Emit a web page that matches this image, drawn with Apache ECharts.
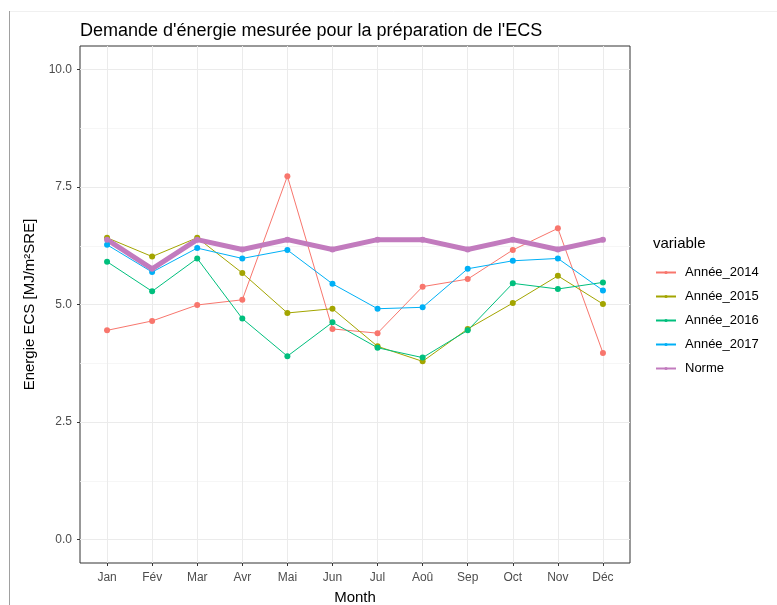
<!DOCTYPE html>
<html>
<head>
<meta charset="utf-8">
<script src="https://cdn.jsdelivr.net/npm/echarts@6/dist/echarts.min.js"></script>
<style>
  html, body { margin: 0; padding: 0; background: #fff; }
  #main { width: 777px; height: 605px; }
</style>
</head>
<body>
<div id="main"></div>
<script>
// Demande d'énergie ECS par mois

var months = ['Jan', 'Fév', 'Mar', 'Avr', 'Mai', 'Jun', 'Jul', 'Aoû', 'Sep', 'Oct', 'Nov', 'Déc'];
var annee2014 = [4.45, 4.65, 4.99, 5.10, 7.73, 4.48, 4.39, 5.38, 5.54, 6.16, 6.62, 3.97];
var annee2015 = [6.42, 6.02, 6.42, 5.67, 4.82, 4.91, 4.11, 3.79, 4.48, 5.03, 5.61, 5.01];
var annee2016 = [5.91, 5.28, 5.98, 4.70, 3.90, 4.62, 4.08, 3.87, 4.45, 5.45, 5.33, 5.47];
var annee2017 = [6.27, 5.69, 6.20, 5.98, 6.16, 5.44, 4.91, 4.94, 5.76, 5.93, 5.98, 5.30];
var norme     = [6.38, 5.76, 6.38, 6.17, 6.38, 6.17, 6.38, 6.38, 6.17, 6.38, 6.17, 6.38];
var yTicks = [0, 2.5, 5, 7.5, 10];
var yMinor = [1.25, 3.75, 6.25, 8.75];

var monthIdx = months.map(function (m, i) { return i; });
function pairs(arr) {
    return arr.map(function (v, i) { return [i, v]; });
}

var font = 'Liberation Sans, Arial, sans-serif';

var myChart = echarts.init(document.getElementById('main'), null, { renderer: 'canvas' });

function yearSeries(name, arr, color) {
    return {
        name: name,
        type: 'line',
        data: pairs(arr),
        symbol: 'circle',
        symbolSize: 6,
        showSymbol: true,
        itemStyle: { color: color },
        lineStyle: { width: 1, color: color },
        emphasis: { disabled: true },
        animation: false
    };
}

var option = {
    backgroundColor: '#fff',
    animation: false,
    textStyle: { fontFamily: font },
    title: [
        {
            text: "Demande d'énergie mesurée pour la préparation de l'ECS",
            left: 75,
            top: 17,
            textStyle: { fontSize: 18, fontWeight: 'normal', color: '#000', fontFamily: font }
        },
        {
            text: 'variable',
            left: 648,
            top: 231,
            textStyle: { fontSize: 15, fontWeight: 'normal', color: '#000', fontFamily: font }
        }
    ],
    // fine cadre gris de la capture d'origine
    graphic: [
        { type: 'line', shape: { x1: 9.5, y1: 11, x2: 9.5, y2: 605 }, style: { stroke: '#a0a0a0', lineWidth: 1 }, silent: true },
        { type: 'line', shape: { x1: 10, y1: 11.5, x2: 777, y2: 11.5 }, style: { stroke: '#f0f0f0', lineWidth: 1 }, silent: true }
    ],
    legend: {
        orient: 'vertical',
        left: 650,
        top: 261,
        itemWidth: 20,
        itemHeight: 4,
        itemGap: 11,
        textStyle: { fontSize: 13, color: '#000', fontFamily: font, padding: [0, 0, 0, 4] },
        data: ['Année_2014', 'Année_2015', 'Année_2016', 'Année_2017', 'Norme']
    },
    grid: {
        left: 80,
        right: 147,
        top: 46,
        bottom: 42,
        outerBoundsMode: 'none',
        containLabel: false,
        show: true,
        borderColor: '#333',
        borderWidth: 1,
        backgroundColor: 'transparent'
    },
    xAxis: {
        type: 'value',
        min: -0.6,
        max: 11.6,
        name: 'Month',
        nameLocation: 'middle',
        nameGap: 27,
        nameTextStyle: { fontSize: 15, color: '#000', fontFamily: font },
        axisLine: { show: false, onZero: false },
        axisTick: { show: true, length: 3, lineStyle: { color: '#333' }, customValues: monthIdx },
        axisLabel: {
            customValues: monthIdx,
            margin: 9,
            fontSize: 12,
            color: '#4d4d4d',
            formatter: function (v) { return months[Math.round(v)]; }
        },
        splitLine: { show: true, lineStyle: { color: '#ebebeb', width: 1 } }
    },
    yAxis: [
        {
            type: 'value',
            min: -0.5,
            max: 10.5,
            name: 'Energie ECS [MJ/m²SRE]',
            nameLocation: 'middle',
            nameGap: 40,
            nameTextStyle: { fontSize: 15, color: '#000', fontFamily: font },
            axisLine: { show: false, onZero: false },
            axisTick: { show: true, length: 3, lineStyle: { color: '#333' }, customValues: yTicks },
            axisLabel: {
                customValues: yTicks,
                margin: 8,
                fontSize: 12,
                color: '#4d4d4d',
                formatter: function (v) { return v.toFixed(1); }
            },
            splitLine: { show: true, lineStyle: { color: '#ebebeb', width: 1 } }
        },
        {
            type: 'value',
            min: -0.5,
            max: 10.5,
            position: 'left',
            axisLine: { show: false, onZero: false },
            axisTick: { show: false, customValues: yMinor },
            axisLabel: { show: false, customValues: yMinor },
            splitLine: { show: true, lineStyle: { color: '#f4f4f4', width: 0.8 } }
        }
    ],
    series: [
        yearSeries('Année_2014', annee2014, '#F8766D'),
        yearSeries('Année_2015', annee2015, '#A3A500'),
        yearSeries('Année_2016', annee2016, '#00BF7D'),
        yearSeries('Année_2017', annee2017, '#00B0F6'),
        {
            name: 'Norme',
            type: 'line',
            data: pairs(norme),
            symbol: 'circle',
            symbolSize: 6,
            showSymbol: true,
            itemStyle: { color: '#C27BBE' },
            lineStyle: { width: 5, color: '#C27BBE' },
            emphasis: { disabled: true },
            animation: false
        }
    ]
};

myChart.setOption(option);
</script>
</body>
</html>
